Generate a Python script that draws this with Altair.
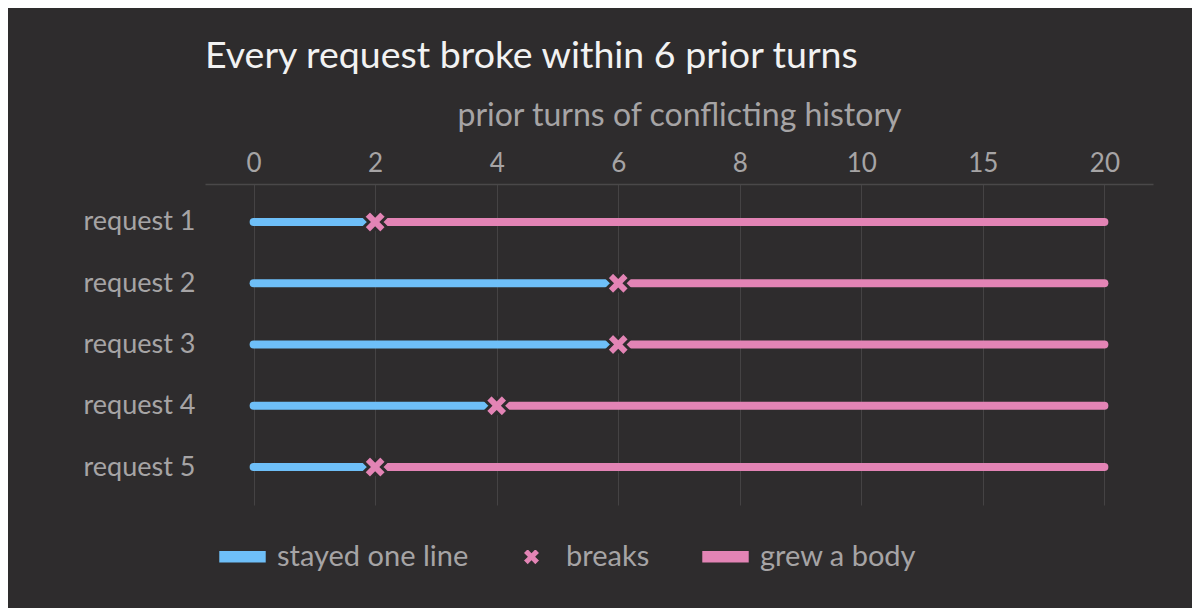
import pandas as pd
import altair as alt

# data
requests = ["request 1", "request 2", "request 3", "request 4", "request 5"]
break_at = [2, 6, 6, 4, 2]
first_turn = 0
last_turn = 20
turn_ticks = [0, 2, 4, 6, 8, 10, 15, 20]
phases = ["stayed one line", "breaks", "grew a body"]

BG = "#2e2c2d"
BLUE = "#6ebff8"
PINK = "#e384b5"
GREY = "#a6a4a5"
FONT = "Lato"

# segments before / after the break
rows = []
for r, b in zip(requests, break_at):
    rows.append({"request": r, "start": first_turn, "end": b, "phase": phases[0]})
    rows.append({"request": r, "start": b, "end": last_turn, "phase": phases[2]})
segments = pd.DataFrame(rows)
breaks = pd.DataFrame({"request": requests, "turn": break_at, "phase": phases[1]})

# symbol paths: wide bar for the lines, fat X for the break
bar_path = "M-2.82,-0.76H2.82V0.76H-2.82Z"
x_path = ("M-1,-0.45L-0.45,-1L0,-0.55L0.45,-1L1,-0.45L0.55,0L1,0.45L0.45,1"
          "L0,0.55L-0.45,1L-1,0.45L-0.55,0Z")

x_scale = alt.Scale(type="point", domain=turn_ticks, padding=0.4)
y_scale = alt.Scale(type="point", domain=requests, padding=0.62)
color_scale = alt.Scale(domain=phases, range=[BLUE, PINK, PINK])
shape_scale = alt.Scale(domain=phases, range=[bar_path, x_path, bar_path])

x_axis = alt.Axis(
    orient="top", title="prior turns of conflicting history", labelAngle=0,
    grid=True, ticks=False, labelPadding=8, titlePadding=18,
)
y_axis = alt.Axis(title=None, domain=False, ticks=False, grid=False, labelPadding=10)

legend = alt.Legend(
    title=None, orient="none", direction="horizontal",
    legendX=23, legendY=358, symbolSize=289, labelLimit=400,
    labelOffset=20, columnPadding=48,
)

lines = alt.Chart(segments).mark_rule(strokeWidth=8, strokeCap="round").encode(
    x=alt.X("start:O", scale=x_scale, axis=x_axis),
    x2="end:O",
    y=alt.Y("request:N", scale=y_scale, axis=y_axis),
    color=alt.Color("phase:N", scale=color_scale, legend=None),
)

marks = alt.Chart(breaks).mark_point(
    filled=True, size=529, opacity=1, stroke=BG, strokeWidth=3
).encode(
    x=alt.X("turn:O", scale=x_scale, axis=x_axis),
    y=alt.Y("request:N", scale=y_scale, axis=y_axis),
    color=alt.Color("phase:N", scale=color_scale, legend=legend),
    shape=alt.Shape("phase:N", scale=shape_scale, legend=legend),
)

chart = (lines + marks).resolve_scale(color="independent", shape="independent").properties(
    width=948,
    height=321,
    autosize=alt.AutoSizeParams(type="none"),
    padding={"left": 197, "top": 176, "right": 39, "bottom": 103},
    title=alt.TitleParams(
        "Every request broke within 6 prior turns",
        anchor="start", frame="group", fontSize=37.5, fontWeight="normal",
        color="#f2f2f2", font=FONT, offset=24,
    ),
).configure(
    background=BG,
).configure_view(
    stroke=None,
).configure_axis(
    labelFont=FONT, titleFont=FONT, labelColor=GREY, titleColor=GREY,
    labelFontSize=26, titleFontSize=32, titleFontWeight="normal",
    domainColor="#4a4849", gridColor="#454344", domainWidth=1.5,
).configure_axisY(
    labelFontSize=27,
).configure_legend(
    labelFont=FONT, labelFontSize=29, labelColor=GREY, padding=0,
)

chart.save("out.html", embed_options={"renderer": "svg", "actions": False})
